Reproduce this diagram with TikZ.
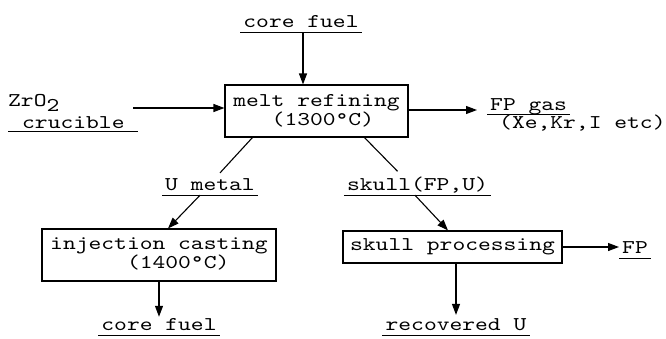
\documentclass[tikz,border=0pt]{standalone}
\usepackage{fontspec}
\newfontfamily\tw{lmmono10-regular.otf}[FakeStretch=1.25]
\usetikzlibrary{arrows.meta}
\begin{document}
\begin{tikzpicture}[x=1pt,y=-1pt,
  every node/.style={font=\tw\fontsize{19.5}{19}\selectfont},
  arr/.style={-{Triangle[length=11pt,width=8pt]}, line width=1.1pt},
  ln/.style={line width=1.1pt},
  procbox/.style={draw, line width=1.1pt, inner sep=0pt, align=left},
  plain/.style={inner sep=0pt, anchor=base west, text depth=0pt},
  ul/.style={inner xsep=3pt, inner ysep=5pt, anchor=base, text depth=0pt,
    append after command={(\tikzlastnode.south west) edge[line width=1.1pt] (\tikzlastnode.south east)}}]
\useasboundingbox (0,0) rectangle (666,338);
% boxes
\node[procbox, minimum width=183pt, minimum height=52pt] (melt) at (316.5,111)
  {melt refining\\\phantom{mel}(1300°C)};
\node[procbox, minimum width=234pt, minimum height=52pt] (inj) at (159,255)
  {injection casting\\\phantom{inject}(1400°C)};
\node[procbox, minimum width=219pt, minimum height=32pt] (skb) at (452.5,247)
  {skull processing};
% labels
\node[plain] (zr) at (8,106) {ZrO\raisebox{-5pt}{2}};
\node[plain, inner ysep=3pt] (cru) at (22,128) {crucible};
\node[ul] (cftop) at (301,27) {core fuel};
\node[ul, anchor=base west, inner ysep=4pt] (fpgas) at (487,110) {FP gas};
\node[plain] (xekr) at (499,128.5) {(Xe,Kr,I etc)};
\node[ul] (umetal) at (210,190) {U metal};
\node[ul] (sk) at (417.5,190) {skull(FP,U)};
\node[ul, anchor=base west] (fp) at (619,253) {FP};
\node[ul] (cfbot) at (159,330) {core fuel};
\node[ul] (recu) at (456,330) {recovered U};
% underline of ZrO2 crucible
\draw[ln] (zr.west |- cru.south) -- ([xshift=13pt]cru.south east);
% connectors
\coordinate (zin) at (133,108);
\draw[arr] (zin) -- (zin -| melt.west);
\draw[arr] ([xshift=2pt]cftop.south) -- ([xshift=2pt]cftop.south |- melt.north);
\draw[arr] (melt.east |- fpgas.base) -- ([xshift=-10pt]fpgas.base west);
\draw[ln] ([xshift=28pt]melt.south west) -- ([xshift=10pt]umetal.north);
\draw[ln] ([xshift=140pt]melt.south west) -- ([xshift=-20pt]sk.north);
\draw[arr] ([xshift=-10pt]umetal.south) -- ([xshift=9pt]inj.north);
\draw[arr] ([xshift=-2.5pt]sk.south) -- ([xshift=-4.5pt]skb.north);
\draw[arr] (skb.east) -- (skb.east -| fp.west);
\draw[arr] (inj.south) -- ([yshift=-4pt]inj.south |- cfbot.north);
\draw[arr] ([xshift=3.5pt]skb.south) -- ([xshift=3.5pt,yshift=-2pt]skb.south |- recu.north);
\end{tikzpicture}
\end{document}
